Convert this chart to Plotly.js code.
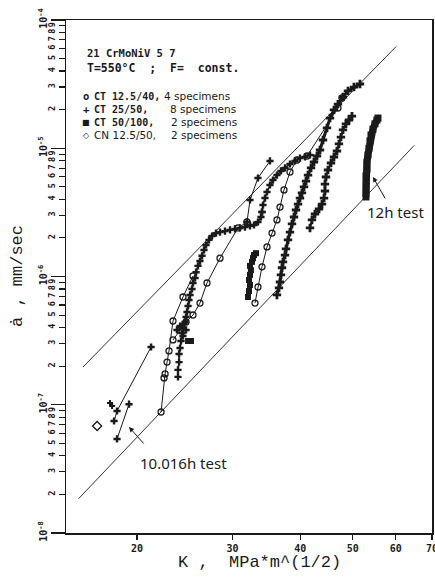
<!DOCTYPE html>
<html><head><meta charset="utf-8">
<script src="https://cdn.plot.ly/plotly-3.0.1.min.js"></script>
<style>html,body{margin:0;padding:0;background:#fff}</style>
</head><body><div id="chart" style="width:435px;height:580px"></div>
<script>
// ---------- data (K in MPa*m^0.5, da/dt in mm/sec) ----------
const xTickVals = [20, 30, 40, 50, 60, 70];
const xTickText = ["20", "30", "40", "50", "60", "70"];
const yDecades = [-8, -7, -6, -5, -4];
const yMantissas = [2, 3, 4, 5, 6, 7, 8, 9];

const upperLineK = [15.9, 60.1];
const upperLineA = [1.97e-7, 6.2e-5];
const lowerLineK = [15.6, 64.9];
const lowerLineA = [1.85e-8, 1.05e-5];

// CT 12.5/40 (open circles)
const ct125aK = [22.15, 22.43, 22.53, 22.72, 22.91, 23.30, 24.31, 25.37];
const ct125aA = [8.78e-8, 1.62e-7, 1.74e-7, 2.15e-7, 2.63e-7, 4.50e-7, 6.92e-7, 1.01e-6];
const ct125bK = [23.30, 24.01, 24.63, 25.37, 26.13, 26.92, 28.45, 30.71, 31.91];
const ct125bA = [3.20e-7, 3.83e-7, 4.42e-7, 5.01e-7, 6.21e-7, 8.90e-7, 1.39e-6, 2.39e-6, 2.66e-6];
const ct125cK = [33.01, 33.43, 34.01, 34.74, 35.48, 36.24, 36.71, 37.34, 38.30, 39.46, 41.17, 46.96, 47.77];
const ct125cA = [6.21e-7, 8.28e-7, 1.19e-6, 1.70e-6, 2.18e-6, 2.76e-6, 3.48e-6, 4.73e-6, 6.53e-6, 8.10e-6, 8.70e-6, 2.06e-5, 2.47e-5];

// CT 25/50 (+)
const ct25aK = [18.14, 18.37, 21.23];
const ct25aA = [7.47e-8, 8.94e-8, 2.82e-7];
const ct25bK = [18.37, 19.33];
const ct25bA = [5.41e-8, 1.01e-7];
const ct25cK = [31.91, 32.32, 33.43, 35.18];
const ct25cA = [2.66e-6, 3.95e-6, 5.86e-6, 7.96e-6];
const ct25dK = [23.80, 23.80, 23.91, 23.91, 24.01, 24.11, 24.21, 24.31, 24.52, 24.63, 24.73, 24.84, 24.94, 25.05, 25.26, 25.37, 25.59, 25.70, 25.91, 26.13, 26.36, 26.58, 26.81, 27.15, 27.50, 27.97, 28.45, 29.06, 29.69, 30.32, 30.97, 31.64, 32.32, 32.87, 33.43, 33.86, 34.01];
const ct25dA = [1.65e-7, 1.87e-7, 2.15e-7, 2.49e-7, 2.77e-7, 3.14e-7, 3.63e-7, 3.97e-7, 4.42e-7, 4.83e-7, 5.29e-7, 5.89e-7, 6.56e-7, 7.18e-7, 7.99e-7, 8.90e-7, 9.73e-7, 1.08e-6, 1.21e-6, 1.32e-6, 1.45e-6, 1.61e-6, 1.76e-6, 1.93e-6, 2.07e-6, 2.18e-6, 2.22e-6, 2.26e-6, 2.31e-6, 2.35e-6, 2.39e-6, 2.43e-6, 2.48e-6, 2.52e-6, 2.66e-6, 2.91e-6, 3.18e-6];
const ct25eK = [34.01, 34.15, 34.44, 34.74, 35.18, 35.63, 36.24, 36.86, 37.50, 38.30, 39.12, 39.96, 40.82, 41.70];
const ct25eA = [3.18e-6, 3.61e-6, 4.09e-6, 4.56e-6, 5.17e-6, 5.65e-6, 6.18e-6, 6.65e-6, 7.02e-6, 7.54e-6, 7.96e-6, 8.39e-6, 8.55e-6, 8.86e-6];
const ct25fK = [36.24, 36.55, 36.71, 36.86, 37.02, 37.18, 37.50, 37.66, 37.98, 38.30, 38.63, 38.96, 39.29, 39.63, 39.96, 40.30, 40.65, 41.00, 41.35, 41.88, 42.41, 42.96, 43.51, 44.07, 44.82, 45.40, 46.17, 46.96, 47.97, 49.00, 50.26, 51.56];
const ct25fA = [7.18e-7, 8.14e-7, 9.06e-7, 1.03e-6, 1.17e-6, 1.30e-6, 1.47e-6, 1.64e-6, 1.93e-6, 2.22e-6, 2.57e-6, 2.91e-6, 3.30e-6, 3.67e-6, 4.09e-6, 4.48e-6, 4.99e-6, 5.55e-6, 6.18e-6, 7.02e-6, 7.81e-6, 8.70e-6, 9.69e-6, 1.16e-5, 1.44e-5, 1.72e-5, 1.99e-5, 2.21e-5, 2.51e-5, 2.80e-5, 3.00e-5, 3.17e-5];
const ct25gK = [41.70, 42.05, 42.59, 43.33, 43.88, 44.26, 44.44, 44.44, 44.63, 45.01, 45.59, 46.17, 46.76, 47.16, 47.56, 47.97, 48.58, 49.21, 49.84];
const ct25gA = [2.39e-6, 2.76e-6, 3.07e-6, 3.36e-6, 3.67e-6, 4.09e-6, 4.64e-6, 5.26e-6, 5.97e-6, 6.77e-6, 7.67e-6, 8.55e-6, 9.52e-6, 1.08e-5, 1.22e-5, 1.39e-5, 1.55e-5, 1.66e-5, 1.78e-5];
const ct25hK = [23.70, 24.01, 24.42, 24.31, 24.63];
const ct25hA = [3.83e-7, 4.11e-7, 4.26e-7, 3.44e-7, 3.83e-7];

// CT 50/100 (filled squares)
const ct50aK = [52.89, 52.89, 52.89, 52.89, 53.12, 53.12, 53.34, 53.57, 53.80, 54.03, 54.49, 54.95, 55.42, 55.66];
const ct50aA = [4.17e-6, 4.73e-6, 5.36e-6, 6.08e-6, 6.89e-6, 7.81e-6, 8.86e-6, 1.00e-5, 1.14e-5, 1.27e-5, 1.41e-5, 1.55e-5, 1.66e-5, 1.72e-5];
const ct50bK = [32.04, 32.18, 32.32, 32.18, 32.32, 32.45, 32.32, 32.59, 32.73, 32.87, 33.15];
const ct50bA = [6.92e-7, 7.71e-7, 8.58e-7, 9.39e-7, 1.03e-6, 1.12e-6, 1.21e-6, 1.30e-6, 1.39e-6, 1.47e-6, 1.52e-6];
const ct50cK = [24.84, 25.15];
const ct50cA = [3.14e-7, 3.14e-7];

// CN 12.5/50 (open diamonds)
const cnaK = [16.88];
const cnaA = [6.83e-8];
const cnbK = [17.83, 17.99];
const cnbA = [1.03e-7, 9.78e-8];

// ---------- drawing ----------
const INK = '#1a1a1a';
function refLine(x, y) {
  return {x, y, mode: 'lines', line: {color: '#333', width: 1}, hoverinfo: 'skip'};
}
function circles(x, y) {
  return {x, y, mode: 'lines+markers', line: {color: INK, width: 1},
    marker: {symbol: 'circle-open', size: 6, color: INK, line: {width: 1.3, color: INK}}};
}
function crosses(x, y, w, s) {
  return {x, y, mode: 'lines+markers', line: {color: INK, width: w || 1},
    marker: {symbol: 'cross', size: s || 6, color: INK}};
}
function squares(x, y, w, s) {
  return {x, y, mode: 'lines+markers', line: {color: INK, width: w},
    marker: {symbol: 'square', size: s, color: INK}};
}

const traces = [
  refLine(upperLineK, upperLineA),
  refLine(lowerLineK, lowerLineA),
  circles(ct125aK, ct125aA),
  circles(ct125bK, ct125bA),
  circles(ct125cK, ct125cA),
  crosses(ct25aK, ct25aA, 1, 6),
  crosses(ct25bK, ct25bA, 1, 6),
  crosses(ct25cK, ct25cA, 1, 6),
  crosses(ct25dK, ct25dA, 1.5, 6),
  crosses(ct25eK, ct25eA, 1.5, 6),
  crosses(ct25fK, ct25fA, 3, 7),
  crosses(ct25gK, ct25gA, 2, 7),
  crosses(ct25hK, ct25hA, 1, 6),
  squares(ct50aK, ct50aA, 7, 7),
  squares(ct50bK, ct50bA, 4, 6),
  squares(ct50cK, ct50cA, 3, 6),
  {x: cnaK, y: cnaA, mode: 'markers', marker: {symbol: 'diamond-open', size: 7, color: INK, line: {width: 1.3}}},
  {x: cnbK, y: cnbA, mode: 'lines+markers', line: {color: INK, width: 3}, marker: {symbol: 'cross', size: 5, color: INK}},
  {x: [], y: [], yaxis: 'y2', mode: 'markers'}
];

const minorVals = [], minorText = [];
yDecades.slice(0, 4).forEach(d => yMantissas.forEach(m => { minorVals.push(m * Math.pow(10, d)); minorText.push(String(m)); }));
const decadeVals = yDecades.map(d => Math.pow(10, d));
const decadeText = yDecades.map(d => '10<sup>' + d + '</sup>');

const monoBold = {family: 'DejaVu Sans Mono', weight: 'bold', color: INK};
const px = v => (v - 66) / 366, py = v => (533 - v) / 513;

function note(text, x, y, font, extra) {
  return Object.assign({text, x: px(x), y: py(y), xref: 'paper', yref: 'paper', showarrow: false,
    xanchor: 'left', yanchor: 'middle', font}, extra || {});
}

const annotations = [
  note('21 CrMoNiV 5 7', 85, 53, Object.assign({size: 10.5}, monoBold)),
  note('T=550°C  ;  F=  const.', 85, 68, Object.assign({size: 11.5}, monoBold)),
  note('o', 86, 96, Object.assign({size: 10.5}, monoBold), {xanchor: 'center'}),
  note('+', 86, 109, Object.assign({size: 10.5}, monoBold), {xanchor: 'center'}),
  note('■', 86, 122, {family: 'DejaVu Sans', size: 8, color: INK}, {xanchor: 'center'}),
  note('◇', 86, 135, {family: 'DejaVu Sans', size: 8, color: INK}, {xanchor: 'center'}),
  note('CT 12.5/40,', 92, 96, Object.assign({size: 10}, monoBold)),
  note('CT 25/50,', 92, 109, Object.assign({size: 10}, monoBold)),
  note('CT 50/100,', 92, 122, Object.assign({size: 10}, monoBold)),
  note('CN 12.5/50,', 92, 135, {family: 'DejaVu Sans', size: 10.5, color: INK}),
  note('4 specimens', 162, 96, {family: 'DejaVu Sans', size: 10.5, color: INK}),
  note('8 specimens', 168, 109, {family: 'DejaVu Sans', size: 10.5, color: INK}),
  note('2 specimens', 169, 122, {family: 'DejaVu Sans', size: 10.5, color: INK}),
  note('2 specimens', 169, 135, {family: 'DejaVu Sans', size: 10.5, color: INK}),
  note('12h test', 395, 212, {family: 'Noto Sans', size: 15, color: INK}, {xanchor: 'center'}),
  note('10.016h test', 183, 463, {family: 'Noto Sans', size: 15, color: INK}, {xanchor: 'center'}),
  {text: '', x: px(373), y: py(177), xref: 'paper', yref: 'paper', showarrow: true, ax: 13, ay: 23,
    arrowhead: 2, arrowsize: 1, arrowwidth: 1, arrowcolor: INK},
  {text: '', x: px(129), y: py(427), xref: 'paper', yref: 'paper', showarrow: true, ax: 16, ay: 18,
    arrowhead: 2, arrowsize: 1, arrowwidth: 1, arrowcolor: INK},
  note('K ,  MPa*m^(1/2)', 259, 562, {family: 'Liberation Mono', size: 17, color: INK}, {xanchor: 'center'}),
  note('ȧ , mm/sec', 17, 276, {family: 'Liberation Mono', size: 17, color: INK}, {xanchor: 'center', textangle: -90})
];

const layout = {
  width: 435, height: 580, margin: {l: 66, r: 3, t: 20, b: 47},
  paper_bgcolor: '#fff', plot_bgcolor: '#fff', showlegend: false,
  xaxis: {type: 'log', range: [Math.log10(14.79), Math.log10(70.02)], tickvals: xTickVals, ticktext: xTickText,
    ticks: 'outside', ticklen: 5, tickwidth: 1.2, tickcolor: INK, showline: true, linecolor: INK, linewidth: 1.5,
    mirror: true, showgrid: false, zeroline: false, ticklabeloverflow: 'allow',
    tickfont: Object.assign({size: 10}, monoBold)},
  yaxis: {type: 'log', range: [-8, -4], tickvals: minorVals, ticktext: minorText, tickangle: -90,
    ticks: 'outside', ticklen: 6, tickwidth: 1.2, tickcolor: INK, showline: true, linecolor: INK, linewidth: 1.5,
    mirror: true, showgrid: false, zeroline: false, tickfont: Object.assign({size: 8.5}, monoBold)},
  yaxis2: {type: 'log', overlaying: 'y', side: 'left', range: [-8, -4], tickvals: decadeVals, ticktext: decadeText,
    tickangle: -90, ticks: 'outside', ticklen: 14, tickwidth: 1.2, tickcolor: INK, showline: false,
    showgrid: false, zeroline: false, ticklabeloverflow: 'allow', tickfont: Object.assign({size: 10}, monoBold)},
  annotations
};

Plotly.newPlot('chart', traces, layout, {staticPlot: true, displayModeBar: false});
</script></body></html>
